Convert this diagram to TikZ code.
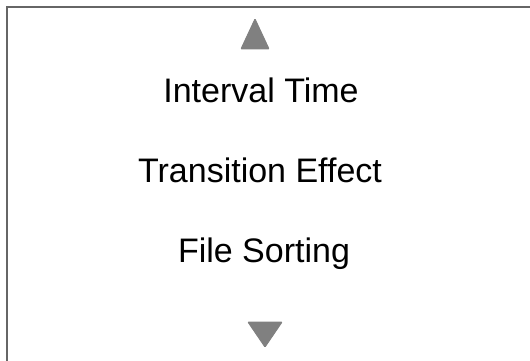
\documentclass[tikz,border=0pt]{standalone}
\usepackage{fontspec}
\setmainfont{Liberation Sans}
\definecolor{framegray}{HTML}{666666}
\definecolor{arrowgray}{HTML}{808080}
\begin{document}
\begin{tikzpicture}[x=1pt,y=-1pt,
  menuitem/.style={anchor=base,inner sep=0pt,font=\fontsize{34}{40}\selectfont},
  scrollmark/.style={fill=arrowgray,draw=arrowgray,line width=1pt,rounded corners=0.8pt}]
  \useasboundingbox (0,0) rectangle (530,361);
  % open frame: top and left edges only
  \draw[framegray,line width=2pt] (7,361) -- (7,7) -- (530,7);
  % scroll indicators
  \filldraw[scrollmark] (241,49) -- (269,49) -- (255,19) -- cycle;
  \filldraw[scrollmark] (248,322) -- (282,322) -- (265,347) -- cycle;
  % menu entries
  \node[menuitem] (interval) at (261,102) {Interval Time};
  \node[menuitem] (transition) at (260,182) {Transition Effect};
  \node[menuitem] (sorting) at (264,262) {File Sorting};
\end{tikzpicture}
\end{document}
